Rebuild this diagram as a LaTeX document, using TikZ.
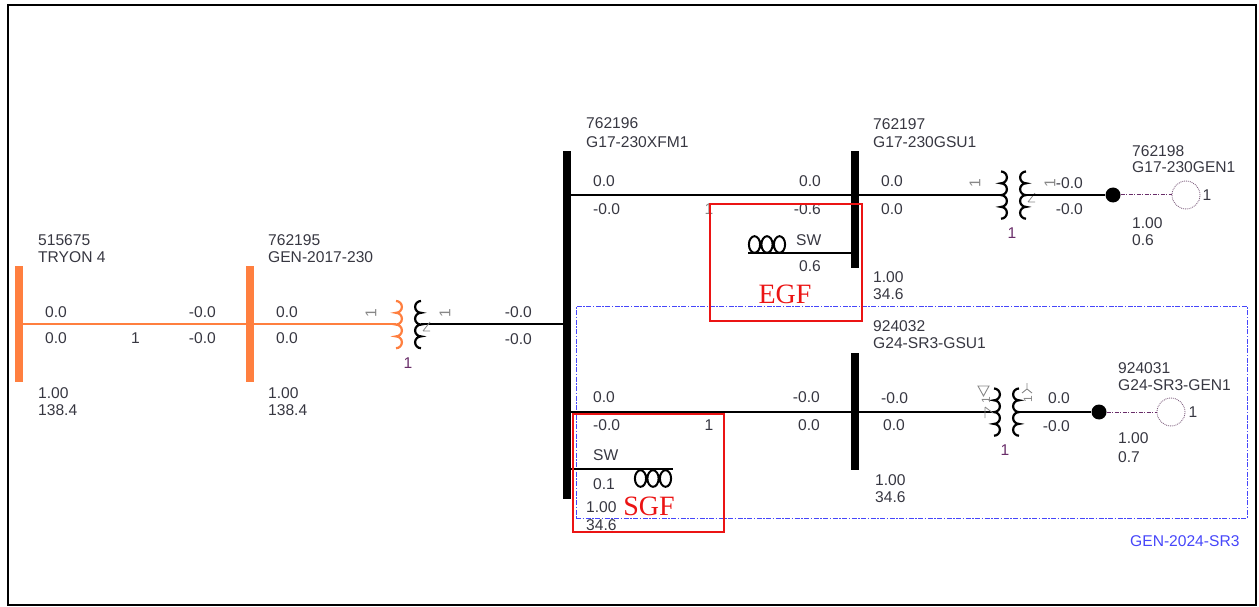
\documentclass[tikz,border=0pt]{standalone}
\usepackage{fontspec}
\setmainfont{Liberation Sans}
\newfontfamily\redserif{Liberation Serif}
\definecolor{orc}{RGB}{255,127,63}
\definecolor{txtc}{RGB}{55,55,65}
\definecolor{grayc}{RGB}{135,135,135}
\definecolor{purc}{RGB}{105,45,105}
\definecolor{gencirc}{RGB}{130,100,130}
\definecolor{bluec}{RGB}{70,70,250}
\definecolor{redc}{RGB}{235,20,20}
\begin{document}
\begin{tikzpicture}[x=1pt,y=-1pt,
  t/.style={font=\fontsize{15.6}{18}\selectfont, text=txtc, inner sep=0pt, anchor=west},
  tr/.style={t, anchor=east},
  tc/.style={t, anchor=center},
  tp/.style={t, anchor=center, text=purc},
  flow/.style={font=\fontsize{15.6}{18}\selectfont, text=grayc, inner sep=0pt, rotate=90},
  bus/.style={rectangle, draw=none, fill=black, minimum width=8pt, inner sep=0pt},
  bline/.style={draw=black, line width=1.2pt},
  orline/.style={draw=orc, line width=1.5pt},
  genline/.style={draw=purc, line width=1pt, dash pattern=on 4pt off 1.5pt on 1pt off 1.5pt},
  dotnode/.style={circle, fill=black, minimum size=15pt, inner sep=0pt},
  gennode/.style={circle, draw=gencirc, densely dotted, line width=0.9pt, minimum size=28pt, inner sep=0pt},
  redbox/.style={rectangle, draw=redc, line width=2pt, inner sep=0pt},
  grpbox/.style={rectangle, draw=bluec, line width=1pt, dash pattern=on 5pt off 1.5pt on 1.5pt off 1.5pt, inner sep=0pt},
  rcoil/.pic={\draw[line width=2.2pt] (0,0) arc[start angle=-90,end angle=90,radius=5.9]
      arc[start angle=-90,end angle=90,radius=5.9] arc[start angle=-90,end angle=90,radius=5.9]
      arc[start angle=-90,end angle=90,radius=5.9];},
  lcoil/.pic={\draw[line width=2.2pt] (0,0) arc[start angle=-90,end angle=-270,radius=5.9]
      arc[start angle=-90,end angle=-270,radius=5.9] arc[start angle=-90,end angle=-270,radius=5.9]
      arc[start angle=-90,end angle=-270,radius=5.9];},
  shloops/.pic={\draw[line width=2pt] (-12.5,0) ellipse[x radius=5.6, y radius=8.3]
      (0,0) ellipse[x radius=5.6, y radius=8.3] (12.5,0) ellipse[x radius=5.6, y radius=8.3];}
]
\useasboundingbox (0,0) rectangle (1259,607);
\node[rectangle, draw=black, line width=2.5pt, minimum width=1248pt, minimum height=600pt, inner sep=0pt] (frame) at (632,305) {};

% group box
\node[grpbox, minimum width=671pt, minimum height=212pt] (grp) at (911.5,412) {};
\node[t, text=bluec] (grplbl) at (1130,541) {GEN-2024-SR3};

% buses
\node[bus, fill=orc, minimum height=116pt] (b515675) at (19,324) {};
\node[bus, fill=orc, minimum height=116pt] (b762195) at (249.5,324) {};
\node[bus, minimum height=348pt] (b762196) at (567,325) {};
\node[bus, minimum height=117pt] (b762197) at (855,209.5) {};
\node[bus, minimum height=117pt] (b924032) at (855,411.5) {};

% transformer terminals
\coordinate (tx1L) at (396,324);
\coordinate (tx1R) at (421,324);
\coordinate (tx2L) at (1001,195);
\coordinate (tx2R) at (1026,195);
\coordinate (tx3L) at (994,412);
\coordinate (tx3R) at (1019,412);

% lines
\draw[orline] (b515675.center) -- (b762195.center);
\draw[orline] (b762195.center) -- (tx1L);
\draw[bline] (tx1R) -- (b762196.center |- tx1R);
\draw[bline] (b762196.center |- tx2L) -- (tx2L);
\draw[bline] (b762196.center |- tx3L) -- (tx3L);

% transformers
\pic[color=orc] at (396,301) {rcoil};
\pic[color=black] at (421,301) {lcoil};
\pic[color=black] at (1001,171.5) {rcoil};
\pic[color=black] at (1026,171.5) {lcoil};
\pic[color=black] at (994,388.5) {rcoil};
\pic[color=black] at (1019,388.5) {lcoil};
\draw[grayc, line width=0.8pt] (423,331) -- (430,322) (423,331) -- (430,331);
\draw[grayc, line width=0.8pt] (1028,202) -- (1035,193) (1028,202) -- (1035,202);
\draw[grayc, line width=0.8pt] (985,407) -- (985,418) (985,407) -- (993,413);
% delta and wye
\draw[grayc, line width=0.9pt] (978,386) -- (989,386) -- (983.5,396) -- cycle;
\draw[grayc, line width=0.9pt] (1027,383) -- (1027,389) -- (1022,393) (1027,389) -- (1032,393);

% generators
\node[dotnode] (d762198) at (1113,195) {};
\node[gennode] (g762198) at (1186,195) {};
\draw[bline] (tx2R) -- (d762198);
\draw[genline] (d762198) -- (g762198);
\node[dotnode] (d924031) at (1099,412) {};
\node[gennode] (g924031) at (1171,412) {};
\draw[bline] (tx3R) -- (d924031);
\draw[genline] (d924031) -- (g924031);

% shunts
\coordinate (sh1) at (748,253);
\draw[bline] (b762197.center |- sh1) -- (sh1);
\pic at (767,244.5) {shloops};
\coordinate (sh2) at (673,469);
\draw[bline] (b762196.center |- sh2) -- (sh2);
\pic at (653,478.5) {shloops};

% redraw orange buses on top
\node[bus, fill=orc, minimum height=116pt] (b515675t) at (19,324) {};
\node[bus, fill=orc, minimum height=116pt] (b762195t) at (249.5,324) {};

% texts bus 515675
\node[t] (n1a) at (38,240) {515675};
\node[t] (n1b) at (38,257) {TRYON 4};
\node[t] (n1c) at (45,312) {0.0};
\node[t] (n1d) at (45,338) {0.0};
\node[t] (n1e) at (131,338) {1};
\node[tr] (n1f) at (216,312) {-0.0};
\node[tr] (n1g) at (216,338) {-0.0};
\node[t] (n1h) at (38,393) {1.00};
\node[t] (n1i) at (38,410) {138.4};
% bus 762195
\node[t] (n2a) at (268,240) {762195};
\node[t] (n2b) at (268,257) {GEN-2017-230};
\node[t] (n2c) at (276,312) {0.0};
\node[t] (n2d) at (276,338) {0.0};
\node[t] (n2e) at (268,393) {1.00};
\node[t] (n2f) at (268,410) {138.4};
\node[flow] (f1) at (371,313) {1};
\node[flow] (f2) at (445,313) {1};
\node[tp] (n2g) at (408,363) {1};
\node[tr] (n2h) at (532,312) {-0.0};
\node[tr] (n2i) at (532,339) {-0.0};
% bus 762196
\node[t] (n3a) at (586,123) {762196};
\node[t] (n3b) at (586,142) {G17-230XFM1};
\node[t] (n3c) at (593,181) {0.0};
\node[t] (n3d) at (593,209) {-0.0};
\node[tr] (n3e) at (821,181) {0.0};
\node[tr] (n3f) at (821,209) {-0.6};
\node[tc, text=grayc] (n3g) at (709,209) {1};
\node[t] (n3h) at (796,240) {SW};
\node[t] (n3i) at (799,266) {0.6};
\node[t] (n3j) at (593,397) {0.0};
\node[t] (n3k) at (593,425) {-0.0};
\node[tc] (n3l) at (709,425) {1};
\node[tr] (n3m) at (820,397) {-0.0};
\node[tr] (n3n) at (820,425) {0.0};
\node[t] (n3o) at (593,455) {SW};
\node[t] (n3p) at (593,484) {0.1};
\node[t] (n3q) at (586,507) {1.00};
\node[t] (n3r) at (586,525) {34.6};
% bus 762197
\node[t] (n4a) at (873,124) {762197};
\node[t] (n4b) at (873,142) {G17-230GSU1};
\node[t] (n4c) at (881,181) {0.0};
\node[t] (n4d) at (881,209) {0.0};
\node[t] (n4e) at (873,277) {1.00};
\node[t] (n4f) at (873,294) {34.6};
\node[flow] (f3) at (975,183) {1};
\node[flow] (f4) at (1050,183) {1};
\node[tp] (n4g) at (1012,233) {1};
\node[tr] (n4h) at (1083,183) {-0.0};
\node[tr] (n4i) at (1083,209) {-0.0};
% gen 762198
\node[t] (n5a) at (1132,151) {762198};
\node[t] (n5b) at (1132,167) {G17-230GEN1};
\node[tc] (n5c) at (1207,195) {1};
\node[t] (n5d) at (1132,223) {1.00};
\node[t] (n5e) at (1132,240) {0.6};
% bus 924032
\node[t] (n6a) at (873,326) {924032};
\node[t] (n6b) at (873,343) {G24-SR3-GSU1};
\node[t] (n6c) at (881,398) {-0.0};
\node[t] (n6d) at (883,425) {0.0};
\node[t] (n6e) at (875,480) {1.00};
\node[t] (n6f) at (875,497) {34.6};
\node[flow, font=\fontsize{12}{14}\selectfont] (f5) at (986,400) {1};
\node[flow, font=\fontsize{12}{14}\selectfont] (f6) at (1028,399) {1};
\node[tp] (n6g) at (1005,450) {1};
\node[tr] (n6h) at (1070,398) {0.0};
\node[tr] (n6i) at (1070,426) {-0.0};
% gen 924031
\node[t] (n7a) at (1118,368) {924031};
\node[t] (n7b) at (1118,385) {G24-SR3-GEN1};
\node[tc] (n7c) at (1193,412) {1};
\node[t] (n7d) at (1118,438) {1.00};
\node[t] (n7e) at (1118,457) {0.7};

% red boxes
\node[redbox, minimum width=152pt, minimum height=117pt] (egfbox) at (786,262.5) {};
\node[inner sep=0pt, text=redc, font=\redserif\fontsize{28}{30}\selectfont] (egf) at (785,294) {EGF};
\node[redbox, minimum width=151pt, minimum height=118pt] (sgfbox) at (648.5,473) {};
\node[inner sep=0pt, text=redc, font=\redserif\fontsize{28}{30}\selectfont] (sgf) at (649,506) {SGF};
\end{tikzpicture}
\end{document}
